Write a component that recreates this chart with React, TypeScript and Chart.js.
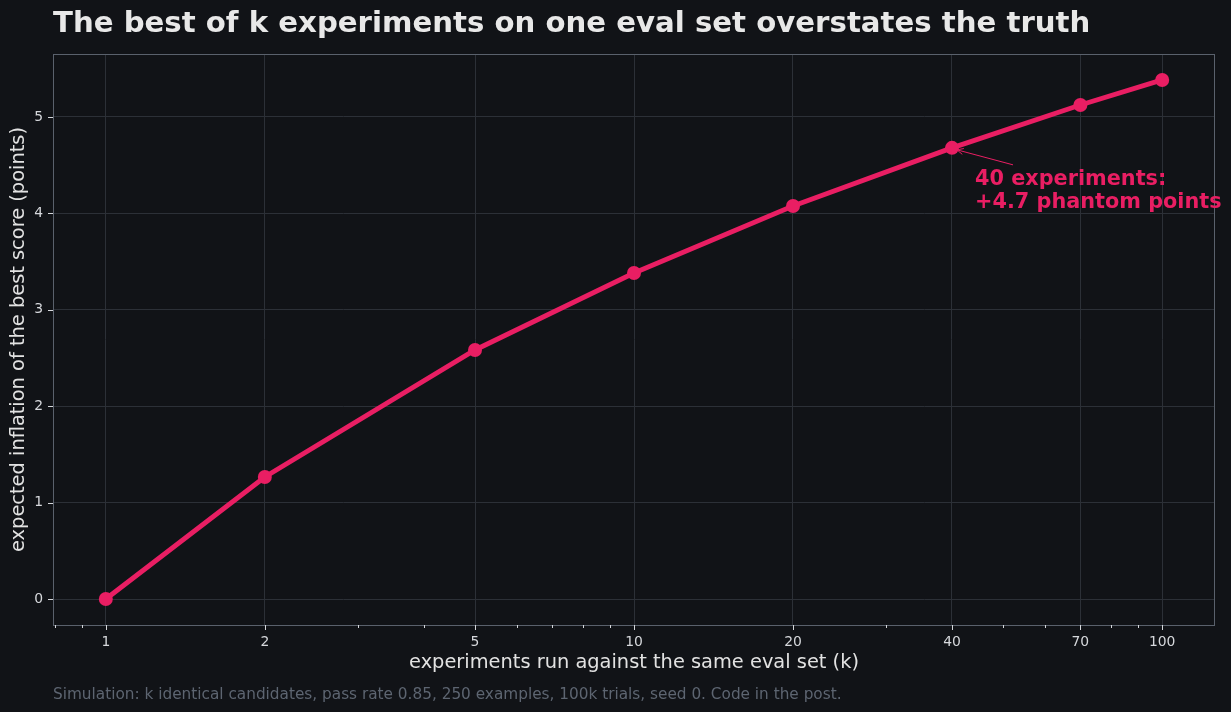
import { useEffect, useRef } from "react";
import { Chart, registerables } from "chart.js";

Chart.register(...registerables);

// k values and the simulated inflation of the best score (points)
const experiments = [1, 2, 5, 10, 20, 40, 70, 100];
const inflation = [0, 1.266, 2.583, 3.382, 4.077, 4.68, 5.124, 5.384];

// axis ticks
const xMajorTicks = [1, 2, 5, 10, 20, 40, 70, 100];
const xMinorTicks = [0.8, 0.9, 3, 4, 6, 7, 8, 9, 30, 50, 60, 80, 90];
const yTicks = [0, 1, 2, 3, 4, 5];

// text
const titleText = "The best of k experiments on one eval set overstates the truth";
const xLabel = "experiments run against the same eval set (k)";
const yLabel = "expected inflation of the best score (points)";
const footnote =
  "Simulation: k identical candidates, pass rate 0.85, 250 examples, 100k trials, seed 0. Code in the post.";
const calloutK = 40;

const BG = "#111317";
const PINK = "#e91e63";
const GRID = "#2c3037";
const SPINE = "#5a616c";
const TICK = "#d6d8dc";
const FONT = "'DejaVu Sans', sans-serif";

const W = 1231;
const H = 712;

export default function App() {
  const ref = useRef<HTMLCanvasElement | null>(null);

  useEffect(() => {
    document.body.style.margin = "0";
    document.body.style.background = BG;
    const canvas = ref.current;
    if (!canvas) return;

    const maxVal = Math.max(...inflation);
    const yMin = -0.05 * maxVal;
    const yMax = maxVal * 1.05;
    const xMin = Math.pow(10, -0.1);
    const xMax = Math.pow(10, 2.1);

    const calloutIdx = experiments.indexOf(calloutK);
    const calloutLines = [
      `${calloutK} experiments:`,
      `+${inflation[calloutIdx].toFixed(1)} phantom points`,
    ];

    const decor = {
      id: "decor",
      beforeDraw(chart: any) {
        const ctx = chart.ctx;
        ctx.save();
        ctx.fillStyle = BG;
        ctx.fillRect(0, 0, chart.width, chart.height);
        ctx.restore();
      },
      afterDraw(chart: any) {
        const ctx = chart.ctx as CanvasRenderingContext2D;
        const area = chart.chartArea;
        const xs = chart.scales.x;
        const ys = chart.scales.y;
        ctx.save();

        // frame
        ctx.strokeStyle = SPINE;
        ctx.lineWidth = 1;
        ctx.strokeRect(area.left + 0.5, area.top + 0.5, area.right - area.left - 1, area.bottom - area.top);

        // tick marks
        ctx.strokeStyle = TICK;
        ctx.lineWidth = 1;
        ctx.beginPath();
        for (const v of yTicks) {
          const y = Math.round(ys.getPixelForValue(v)) + 0.5;
          ctx.moveTo(area.left - 5, y);
          ctx.lineTo(area.left, y);
        }
        for (const v of xMajorTicks) {
          const x = Math.round(xs.getPixelForValue(v)) + 0.5;
          ctx.moveTo(x, area.bottom);
          ctx.lineTo(x, area.bottom + 5);
        }
        for (const v of xMinorTicks) {
          const x = Math.round(xs.getPixelForValue(v)) + 0.5;
          ctx.moveTo(x, area.bottom);
          ctx.lineTo(x, area.bottom + 3);
        }
        ctx.stroke();

        // title
        ctx.fillStyle = "#e8e8e8";
        ctx.font = `bold 29.2px ${FONT}`;
        ctx.textAlign = "left";
        ctx.textBaseline = "alphabetic";
        ctx.fillText(titleText, area.left, 32);

        // axis titles
        ctx.fillStyle = "#e2e2e2";
        ctx.font = `19.4px ${FONT}`;
        ctx.textAlign = "center";
        ctx.fillText(xLabel, (area.left + area.right) / 2, 668);
        ctx.save();
        ctx.translate(23.5, (area.top + area.bottom) / 2);
        ctx.rotate(-Math.PI / 2);
        ctx.fillText(yLabel, 0, 0);
        ctx.restore();

        // footnote
        ctx.fillStyle = "#5d6571";
        ctx.font = `15.3px ${FONT}`;
        ctx.textAlign = "left";
        ctx.fillText(footnote, area.left, 699);

        // callout with arrow
        const px = xs.getPixelForValue(calloutK);
        const py = ys.getPixelForValue(inflation[calloutIdx]);
        const sx = px + 61;
        const sy = py + 17;
        const ex = px + 5;
        const ey = py + 2;
        ctx.strokeStyle = PINK;
        ctx.lineWidth = 1;
        ctx.beginPath();
        ctx.moveTo(sx, sy);
        ctx.lineTo(ex, ey);
        const ang = Math.atan2(ey - sy, ex - sx);
        const hl = 7;
        ctx.moveTo(ex - hl * Math.cos(ang - 0.45), ey - hl * Math.sin(ang - 0.45));
        ctx.lineTo(ex, ey);
        ctx.lineTo(ex - hl * Math.cos(ang + 0.45), ey - hl * Math.sin(ang + 0.45));
        ctx.stroke();

        ctx.fillStyle = PINK;
        ctx.font = `bold 20.8px ${FONT}`;
        ctx.textAlign = "left";
        ctx.fillText(calloutLines[0], px + 23, py + 37.5);
        ctx.fillText(calloutLines[1], px + 23, py + 60.5);

        ctx.restore();
      },
    };

    const chart = new Chart(canvas, {
      type: "line",
      data: {
        datasets: [
          {
            data: experiments.map((k, i) => ({ x: k, y: inflation[i] })),
            borderColor: PINK,
            backgroundColor: PINK,
            borderWidth: 4.9,
            pointRadius: 7,
            pointHoverRadius: 7,
            pointBorderWidth: 0,
            pointBackgroundColor: PINK,
            tension: 0,
          },
        ],
      },
      options: {
        responsive: false,
        animation: false,
        events: [],
        layout: { padding: { left: 0, top: 54, right: 16, bottom: 0 } },
        plugins: {
          legend: { display: false },
          tooltip: { enabled: false },
          title: { display: false },
        },
        scales: {
          x: {
            type: "logarithmic",
            min: xMin,
            max: xMax,
            afterBuildTicks: (scale: any) => {
              scale.ticks = xMajorTicks.map((v) => ({ value: v }));
            },
            afterFit: (scale: any) => {
              scale.height = 87;
            },
            ticks: {
              color: TICK,
              font: { family: FONT, size: 13.9 },
              padding: 9,
              autoSkip: false,
              maxRotation: 0,
              callback: (v: any) => String(v),
            },
            grid: { color: GRID, lineWidth: 1, drawTicks: false },
            border: { display: false },
          },
          y: {
            type: "linear",
            min: yMin,
            max: yMax,
            afterBuildTicks: (scale: any) => {
              scale.ticks = yTicks.map((v) => ({ value: v }));
            },
            afterFit: (scale: any) => {
              scale.width = 53;
            },
            ticks: {
              color: TICK,
              font: { family: FONT, size: 13.9 },
              padding: 10,
              callback: (v: any) => String(v),
            },
            grid: { color: GRID, lineWidth: 1, drawTicks: false },
            border: { display: false },
          },
        },
      },
      plugins: [decor],
    });

    return () => chart.destroy();
  }, []);

  return (
    <div style={{ width: W, height: H, background: BG }}>
      <canvas ref={ref} width={W} height={H} style={{ display: "block", width: W, height: H }} />
    </div>
  );
}
